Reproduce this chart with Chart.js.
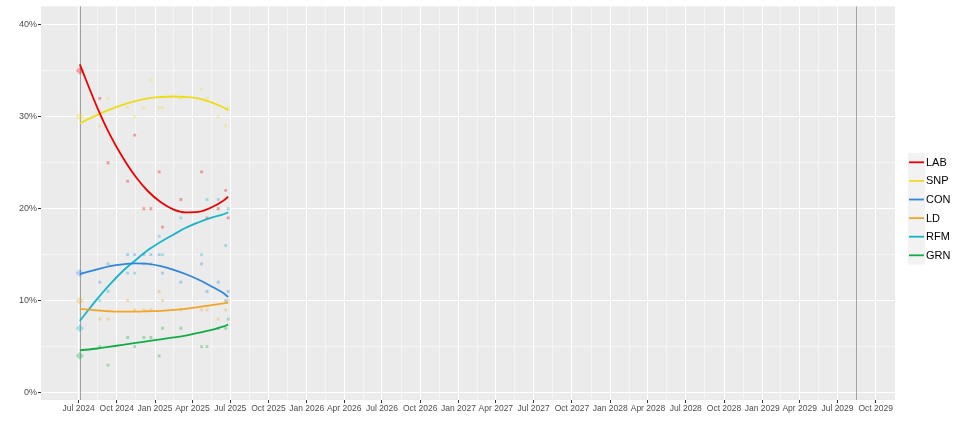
<!DOCTYPE html>
<html>
<head>
<meta charset="utf-8">
<script src="https://cdn.jsdelivr.net/npm/chart.js@4.4.1/dist/chart.umd.min.js"></script>
<style>
  html, body { margin: 0; padding: 0; background: #fff; }
</style>
</head>
<body>
<canvas id="pollChart" width="960" height="427"></canvas>
<script>
// polls (fieldwork end dates) and shares in %
var pollDates = ['2024-07-04', '2024-08-21', '2024-09-10', '2024-10-27', '2024-11-13',
                 '2024-12-05', '2024-12-22', '2025-01-11', '2025-01-19', '2025-03-04',
                 '2025-04-23', '2025-05-06', '2025-06-02', '2025-06-20', '2025-06-26'];
var LAB = [35, 32, 25, 23, 28, 20, 20, 24, 18, 21, 24, 19, 20, 22, 19];
var SNP = [30, 29, 32, 31, 30, 31, 34, 31, 31, 32, 33, 32, 30, 29, 31];
var CON = [13, 12, 14, 15, 15, 15, 15, 15, 13, 12, 14, 11, 12, 10, 11];
var LD  = [10, 8, 8, 10, 9, 9, 9, 11, 10, 9, 9, 9, 8, 9, 10];
var RFM = [7, 10, 11, 13, 13, 14, 14, 17, 15, 19, 15, 21, 21, 16, 20];
var GRN = [4, 5, 3, 6, 5, 6, 6, 4, 7, 7, 5, 5, 7, 7, 8];

// smoothed trend
var trendDates = ['2024-07-04', '2024-08-15', '2024-09-15', '2024-10-15', '2024-11-15',
                  '2024-12-15', '2025-01-15', '2025-02-15', '2025-03-15', '2025-04-15',
                  '2025-05-15', '2025-06-15', '2025-06-26'];
var trendLAB = [35.7, 31.0, 28.0, 25.6, 23.5, 21.9, 20.7, 19.9, 19.6, 19.65, 20.1, 20.9, 21.3];
var trendSNP = [29.3, 30.2, 30.8, 31.3, 31.7, 32.0, 32.15, 32.2, 32.15, 32.0, 31.6, 31.0, 30.7];
var trendCON = [12.9, 13.4, 13.75, 13.95, 14.05, 14.0, 13.75, 13.35, 12.9, 12.3, 11.6, 10.8, 10.4];
var trendLD  = [9.1, 8.95, 8.85, 8.8, 8.8, 8.85, 8.9, 9.0, 9.1, 9.3, 9.5, 9.7, 9.8];
var trendRFM = [7.8, 10.2, 11.8, 13.2, 14.4, 15.5, 16.4, 17.2, 17.9, 18.5, 19.0, 19.4, 19.6];
var trendGRN = [4.6, 4.8, 5.0, 5.2, 5.4, 5.6, 5.8, 6.0, 6.2, 6.5, 6.8, 7.2, 7.4];

var partyNames = ['LAB', 'SNP', 'CON', 'LD', 'RFM', 'GRN'];
var partyColours = ['#ee0000', '#eedc1c', '#2f86dc', '#f5a424', '#17b5cc', '#12ad45'];

// last election and the latest date of the next one
var eventDates = ['2024-07-04', '2029-08-15'];
var tickDates = ['2024-07-01', '2024-10-01', '2025-01-01', '2025-04-01', '2025-07-01', '2025-10-01',
                 '2026-01-01', '2026-04-01', '2026-07-01', '2026-10-01', '2027-01-01', '2027-04-01',
                 '2027-07-01', '2027-10-01', '2028-01-01', '2028-04-01', '2028-07-01', '2028-10-01',
                 '2029-01-01', '2029-04-01', '2029-07-01', '2029-10-01'];
var yTicks = [0, 10, 20, 30, 40];

var MONTHS = ['Jan', 'Feb', 'Mar', 'Apr', 'May', 'Jun', 'Jul', 'Aug', 'Sep', 'Oct', 'Nov', 'Dec'];
function t(s) { return Date.parse(s + 'T00:00:00Z'); }
function fade(hex, a) {
  var n = parseInt(hex.slice(1), 16);
  return 'rgba(' + (n >> 16) + ',' + ((n >> 8) & 255) + ',' + (n & 255) + ',' + a + ')';
}

var pollSeries = [LAB, SNP, CON, LD, RFM, GRN];
var trendSeries = [trendLAB, trendSNP, trendCON, trendLD, trendRFM, trendGRN];

var datasets = [];
partyNames.forEach(function (name, i) {
  datasets.push({
    label: name + ' polls',
    data: pollDates.map(function (d, j) { return { x: t(d), y: pollSeries[i][j] }; }),
    showLine: false,
    pointStyle: pollDates.map(function (d, j) { return j === 0 ? 'rectRot' : 'rect'; }),
    pointRadius: pollDates.map(function (d, j) { return j === 0 ? 4 : 2; }),
    pointBorderWidth: 0,
    pointBackgroundColor: fade(partyColours[i], 0.35),
    order: 2
  });
});
partyNames.forEach(function (name, i) {
  datasets.push({
    label: name,
    data: trendDates.map(function (d, j) { return { x: t(d), y: trendSeries[i][j] }; }),
    showLine: true,
    borderColor: partyColours[i],
    borderWidth: 1.8,
    pointRadius: 0,
    cubicInterpolationMode: 'monotone',
    fill: false,
    order: 1
  });
});

var xStart = t(eventDates[0]), xEnd = t(eventDates[1]);
var xPad = (xEnd - xStart) * 0.05;

var panelBg = {
  id: 'panelBg',
  beforeDraw: function (chart) {
    var a = chart.chartArea, ctx = chart.ctx;
    ctx.save();
    ctx.fillStyle = '#ebebeb';
    ctx.fillRect(a.left, a.top, a.right - a.left, a.bottom - a.top);
    ctx.restore();
  }
};

var eventLines = {
  id: 'eventLines',
  beforeDatasetsDraw: function (chart) {
    var a = chart.chartArea, ctx = chart.ctx, xs = chart.scales.x;
    ctx.save();
    ctx.strokeStyle = 'rgba(110,110,110,0.6)';
    ctx.lineWidth = 1;
    eventDates.forEach(function (d) {
      var px = Math.round(xs.getPixelForValue(t(d))) + 0.5;
      ctx.beginPath();
      ctx.moveTo(px, a.top);
      ctx.lineTo(px, a.bottom);
      ctx.stroke();
    });
    ctx.restore();
  }
};

var keyLegend = {
  id: 'keyLegend',
  afterDraw: function (chart) {
    var ctx = chart.ctx;
    var x0 = 908, y0 = 153, h = 18.6;
    ctx.save();
    ctx.fillStyle = '#f2f2f2';
    ctx.fillRect(x0, y0, 17, h * partyNames.length);
    partyNames.forEach(function (name, i) {
      var cy = y0 + h * i + h / 2;
      ctx.strokeStyle = partyColours[i];
      ctx.lineWidth = 1.8;
      ctx.beginPath();
      ctx.moveTo(x0 + 1, cy);
      ctx.lineTo(x0 + 16, cy);
      ctx.stroke();
      ctx.fillStyle = '#000';
      ctx.font = '11px "Liberation Sans", Arial, sans-serif';
      ctx.textBaseline = 'middle';
      ctx.textAlign = 'left';
      ctx.fillText(name, x0 + 18, cy + 0.5);
    });
    ctx.restore();
  }
};

new Chart(document.getElementById('pollChart').getContext('2d'), {
  type: 'scatter',
  data: { datasets: datasets },
  plugins: [panelBg, eventLines, keyLegend],
  options: {
    responsive: false,
    animation: false,
    devicePixelRatio: 1,
    layout: { padding: { top: 4, right: 65, left: 0, bottom: 0 } },
    plugins: { legend: { display: false }, tooltip: { enabled: false } },
    scales: {
      x: {
        type: 'linear',
        min: xStart - xPad,
        max: xEnd + xPad,
        afterBuildTicks: function (scale) {
          var ticks = [];
          tickDates.forEach(function (d, i) {
            ticks.push({ value: t(d) });
            if (i < tickDates.length - 1) {
              ticks.push({ value: (t(d) + t(tickDates[i + 1])) / 2, minor: true });
            }
          });
          scale.ticks = ticks;
        },
        afterFit: function (scale) { scale.height = 27; },
        border: { display: false },
        grid: {
          color: '#ffffff',
          lineWidth: function (c) { return c.tick && c.tick.minor ? 0.5 : 1; },
          tickColor: function (c) { return c.tick && c.tick.minor ? 'rgba(0,0,0,0)' : '#333333'; },
          tickLength: 3
        },
        ticks: {
          autoSkip: false,
          maxRotation: 0,
          padding: 1,
          color: '#4d4d4d',
          font: { family: '"Liberation Sans", Arial, sans-serif', size: 8.5 },
          callback: function (v, i, ticks) {
            if (ticks[i].minor) return '';
            var d = new Date(v);
            return MONTHS[d.getUTCMonth()] + ' ' + d.getUTCFullYear();
          }
        }
      },
      y: {
        type: 'linear',
        min: -0.8,
        max: 42,
        afterBuildTicks: function (scale) {
          var ticks = [];
          yTicks.forEach(function (v, i) {
            ticks.push({ value: v });
            if (i < yTicks.length - 1) ticks.push({ value: v + 5, minor: true });
          });
          scale.ticks = ticks;
        },
        afterFit: function (scale) { scale.width = 41; },
        border: { display: false },
        grid: {
          color: '#ffffff',
          lineWidth: function (c) { return c.tick && c.tick.minor ? 0.5 : 1; },
          tickColor: function (c) { return c.tick && c.tick.minor ? 'rgba(0,0,0,0)' : '#333333'; },
          tickLength: 3
        },
        ticks: {
          padding: 1,
          color: '#4d4d4d',
          font: { family: '"Liberation Sans", Arial, sans-serif', size: 9 },
          callback: function (v, i, ticks) {
            return ticks[i].minor ? '' : v + '%';
          }
        }
      }
    }
  }
});
</script>
</body>
</html>
